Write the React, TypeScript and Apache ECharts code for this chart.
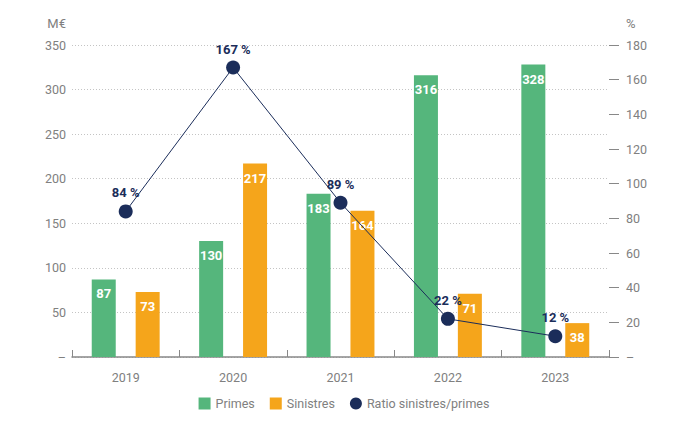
import React, { useEffect, useRef } from "react";
import * as echarts from "echarts";

const years = ["2019", "2020", "2021", "2022", "2023"];
const primes = [87, 130, 183, 316, 328];
const sinistres = [73, 217, 164, 71, 38];
const ratio = [84, 167, 89, 22, 12];

const FONT = "Roboto, 'Noto Sans', sans-serif";
const GREEN = "#55b67c";
const ORANGE = "#f5a51b";
const NAVY = "#1b2d5a";
const GRAY = "#808080";

export default function App() {
  const ref = useRef<HTMLDivElement>(null);
  useEffect(() => {
    if (!ref.current) return;
    const chart = echarts.init(ref.current, undefined, { renderer: "svg" });
    chart.setOption({
      animation: false,
      textStyle: { fontFamily: FONT },
      grid: { left: 72, right: 79, top: 45, bottom: 69 },
      legend: {
        bottom: 11,
        left: "center",
        itemWidth: 12,
        itemHeight: 12,
        itemGap: 15,
        textStyle: { color: GRAY, fontSize: 12.5, fontFamily: FONT },
        data: [
          { name: "Primes", icon: "rect" },
          { name: "Sinistres", icon: "rect" },
          { name: "Ratio sinistres/primes", icon: "circle" },
        ],
      },
      xAxis: {
        type: "category",
        data: years,
        axisLine: { lineStyle: { color: "#888", width: 1.5 } },
        axisTick: { show: true, inside: true, length: 7, lineStyle: { color: "#888" } },
        axisLabel: { color: GRAY, fontSize: 12.5, margin: 14, fontFamily: FONT },
      },
      yAxis: [
        {
          type: "value",
          min: 0,
          max: 350,
          interval: 50,
          name: "M€",
          nameLocation: "end",
          nameGap: 22,
          nameTextStyle: { color: GRAY, fontSize: 13, align: "right", verticalAlign: "middle", padding: [0, 6, 0, 0], fontFamily: FONT },
          axisLine: { show: false },
          axisTick: { show: false },
          axisLabel: {
            color: GRAY,
            fontSize: 12.5,
            margin: 6,
            fontFamily: FONT,
            formatter: (v: number) => (v === 0 ? "–" : String(v)),
          },
          splitLine: { lineStyle: { color: "#c4c4c4", type: [1, 2] } },
        },
        {
          type: "value",
          min: 0,
          max: 180,
          interval: 20,
          name: "%",
          nameLocation: "end",
          nameGap: 22,
          nameTextStyle: { color: GRAY, fontSize: 13, align: "left", verticalAlign: "middle", padding: [0, 0, 0, 17], fontFamily: FONT },
          axisLine: { show: false },
          axisTick: { show: true, length: 10, lineStyle: { color: "#888", width: 1 } },
          axisLabel: {
            color: GRAY,
            fontSize: 12.5,
            margin: 17,
            fontFamily: FONT,
            formatter: (v: number) => (v === 0 ? "–" : String(v)),
          },
          splitLine: { show: false },
        },
      ],
      series: [
        {
          name: "Primes",
          type: "bar",
          data: primes,
          barWidth: 24,
          barGap: "83%",
          itemStyle: { color: GREEN },
          label: {
            show: true,
            position: "insideTop",
            distance: 8,
            color: "#fff",
            fontWeight: "bold",
            fontSize: 13,
            fontFamily: FONT,
          },
        },
        {
          name: "Sinistres",
          type: "bar",
          data: sinistres,
          barWidth: 24,
          itemStyle: { color: ORANGE },
          label: {
            show: true,
            position: "insideTop",
            distance: 8,
            color: "#fff",
            fontWeight: "bold",
            fontSize: 13,
            fontFamily: FONT,
          },
        },
        {
          name: "Ratio sinistres/primes",
          type: "line",
          yAxisIndex: 1,
          data: ratio,
          symbol: "circle",
          symbolSize: 14,
          itemStyle: { color: NAVY },
          lineStyle: { color: NAVY, width: 1 },
          z: 5,
          label: {
            show: true,
            position: "top",
            distance: 5,
            color: NAVY,
            fontWeight: "bold",
            fontSize: 13,
            fontFamily: FONT,
            formatter: "{c} %",
          },
        },
      ],
    });
    return () => chart.dispose();
  }, []);
  return (
    <div
      ref={ref}
      style={{ position: "absolute", left: 0, top: 0, width: 688, height: 426 }}
    />
  );
}
